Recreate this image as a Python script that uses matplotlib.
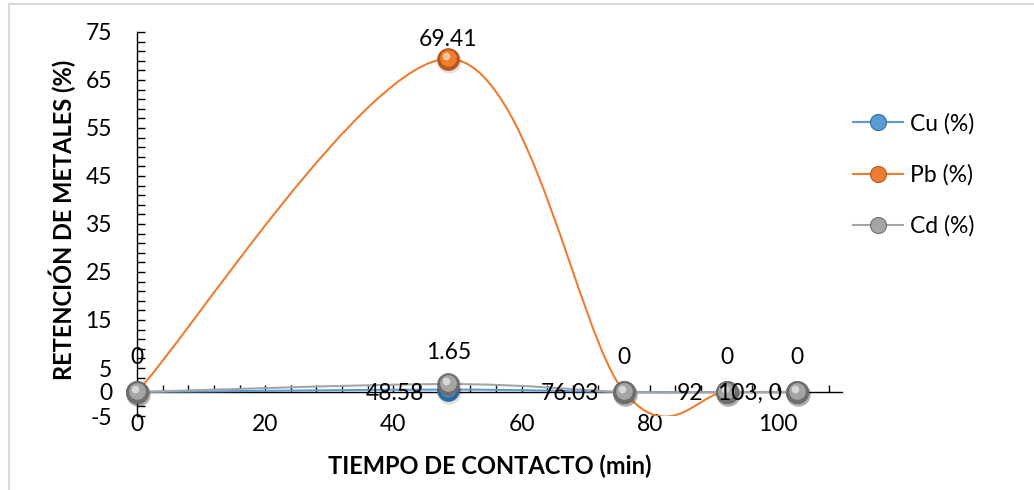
import numpy as np
import matplotlib
matplotlib.use("Agg")
import matplotlib.pyplot as plt
from matplotlib.path import Path
from matplotlib.patches import PathPatch
from matplotlib.lines import Line2D
from matplotlib.ticker import FixedLocator, MultipleLocator
from matplotlib.transforms import ScaledTranslation

# --- data -------------------------------------------------------------
tiempo = [0, 48.58, 76.03, 92, 103]
cu = [0, 0.5, 0, 0, 0]
pb = [0, 69.41, 0, 0, 0]
cd = [0, 1.65, 0, 0, 0]

series_names = ["Cu (%)", "Pb (%)", "Cd (%)"]
series_colors = ["#5B9BD5", "#ED7D31", "#A5A5A5"]
series_dark = ["#2E6DA4", "#B8561A", "#6E6E6E"]

cu_labels = ["0", "48.58", "76.03", "92", "103, 0"]
cd_labels = ["0", "1.65", "0", "0", "0"]
pb_peak_label = "69.41"

x_ticks = [0, 20, 40, 60, 80, 100]
y_ticks = [-5, 5, 15, 25, 35, 45, 55, 65, 75]

plt.rcParams["font.family"] = ["Lato", "DejaVu Sans"]
FS = 16.5

fig = plt.figure(figsize=(10.34, 4.9), dpi=100)
W, H = 1034, 490
ax = fig.add_axes([137 / W, (H - 416) / H, (842 - 137) / W, 384 / H])
ax.set_xlim(0, 110)
ax.set_ylim(-5, 75)


def smooth_path(xs, ys):
    """Catmull-Rom style cubic Bezier through the points (spreadsheet smoothing)."""
    pts = np.column_stack([xs, ys]).astype(float)
    n = len(pts)
    verts = [pts[0]]
    codes = [Path.MOVETO]
    for i in range(n - 1):
        p0 = pts[max(i - 1, 0)]
        p1 = pts[i]
        p2 = pts[i + 1]
        p3 = pts[min(i + 2, n - 1)]
        c1 = p1 + (p2 - p0) / 6.0
        c2 = p2 - (p3 - p1) / 6.0
        verts += [c1, c2, p2]
        codes += [Path.CURVE4] * 3
    return Path(verts, codes)


def shifted(dx, dy):
    return ax.transData + ScaledTranslation(dx / 100, dy / 100, fig.dpi_scale_trans)


def draw_series(ys, color, dark, z):
    ax.add_patch(PathPatch(smooth_path(tiempo, ys), facecolor="none",
                           edgecolor=color, lw=1.5, zorder=z))
    # soft shadow, body and highlight give the markers a rounded look
    ax.plot(tiempo, ys, ls="none", marker="o", ms=17.5, mfc="#000000",
            mec="none", alpha=0.12, zorder=z + 0.1, clip_on=False,
            transform=shifted(1, -2))
    ax.plot(tiempo, ys, ls="none", marker="o", ms=15.5, mfc=dark,
            mec=dark, mew=0.8, zorder=z + 0.2, clip_on=False)
    ax.plot(tiempo, ys, ls="none", marker="o", ms=12, mfc=color,
            mec="none", zorder=z + 0.3, clip_on=False,
            transform=shifted(-0.5, 1))
    ax.plot(tiempo, ys, ls="none", marker="o", ms=5.5, mfc="white",
            mec="none", alpha=0.55, zorder=z + 0.4, clip_on=False,
            transform=shifted(-2, 3))


draw_series(cu, series_colors[0], series_dark[0], 3)
draw_series(pb, series_colors[1], series_dark[1], 4)
draw_series(cd, series_colors[2], series_dark[2], 5)

# --- axes styling -----------------------------------------------------
for s in ["top", "right"]:
    ax.spines[s].set_visible(False)
ax.spines["bottom"].set_position(("data", 0))
ax.spines["left"].set_bounds(-5, 75)
for s in ["left", "bottom"]:
    ax.spines[s].set_linewidth(1.0)
    ax.spines[s].set_color("black")

ax.xaxis.set_major_locator(FixedLocator(x_ticks))
ax.xaxis.set_minor_locator(MultipleLocator(4))
ax.yaxis.set_major_locator(FixedLocator(y_ticks))
ax.yaxis.set_minor_locator(FixedLocator(np.arange(-5, 76, 2)))
ax.tick_params(axis="x", which="both", direction="in", length=5, width=1,
               labelsize=FS, pad=16)
ax.tick_params(axis="y", which="both", direction="in", length=6, width=1,
               labelsize=FS, pad=18)
ax.set_xticklabels([str(v) for v in x_ticks])
ax.set_yticklabels([str(v) for v in y_ticks])

fig.text(490 / W, 1 - 466 / H, "TIEMPO DE CONTACTO (min)", ha="center",
         va="center", fontsize=17, fontweight="bold")
fig.text(62 / W, 1 - 220 / H, "RETENCIÓN DE METALES (%)", ha="center",
         va="center", rotation=90, fontsize=17, fontweight="bold")

# --- data labels ------------------------------------------------------
PX = 72 / 100  # pixels -> points
cu_dx = [-25, -24, -25, -23, -15]
for x, y, t, dx in zip(tiempo, cu, cu_labels, cu_dx):
    ax.annotate(t, (x, 0), xytext=(dx * PX, -1.5 * PX),
                textcoords="offset points", ha="right", va="center",
                fontsize=FS, zorder=10, annotation_clip=False)
for x, y, t in zip(tiempo, cd, cd_labels):
    ax.annotate(t, (x, y), xytext=(0, (32 if y > 0 else 35) * PX),
                textcoords="offset points", ha="center", va="center",
                fontsize=FS, zorder=10, annotation_clip=False)
ax.annotate(pb_peak_label, (tiempo[1], pb[1]), xytext=(0, 19 * PX),
            textcoords="offset points", ha="center", va="center",
            fontsize=FS, zorder=10)

# --- legend -----------------------------------------------------------
handles = [Line2D([0], [0], color=c, lw=1.5, marker="o", ms=11.5, mfc=c,
                  mec=d, mew=0.8) for c, d in zip(series_colors, series_dark)]
leg = fig.legend(handles, series_names, loc="center left",
                 bbox_to_anchor=(832 / W, 1 - 175 / H), frameon=False,
                 fontsize=FS, handlelength=2.2, labelspacing=1.3,
                 handletextpad=0.3)

# --- outer frame ------------------------------------------------------
fig.add_artist(Line2D([8.5 / W, 8.5 / W], [0, 1 - 4.5 / H],
                      transform=fig.transFigure, color="#D9D9D9", lw=1.5))
fig.add_artist(Line2D([8.5 / W, 1], [1 - 4.5 / H, 1 - 4.5 / H],
                      transform=fig.transFigure, color="#D9D9D9", lw=1.5))

fig.savefig("out.png", dpi=100)
